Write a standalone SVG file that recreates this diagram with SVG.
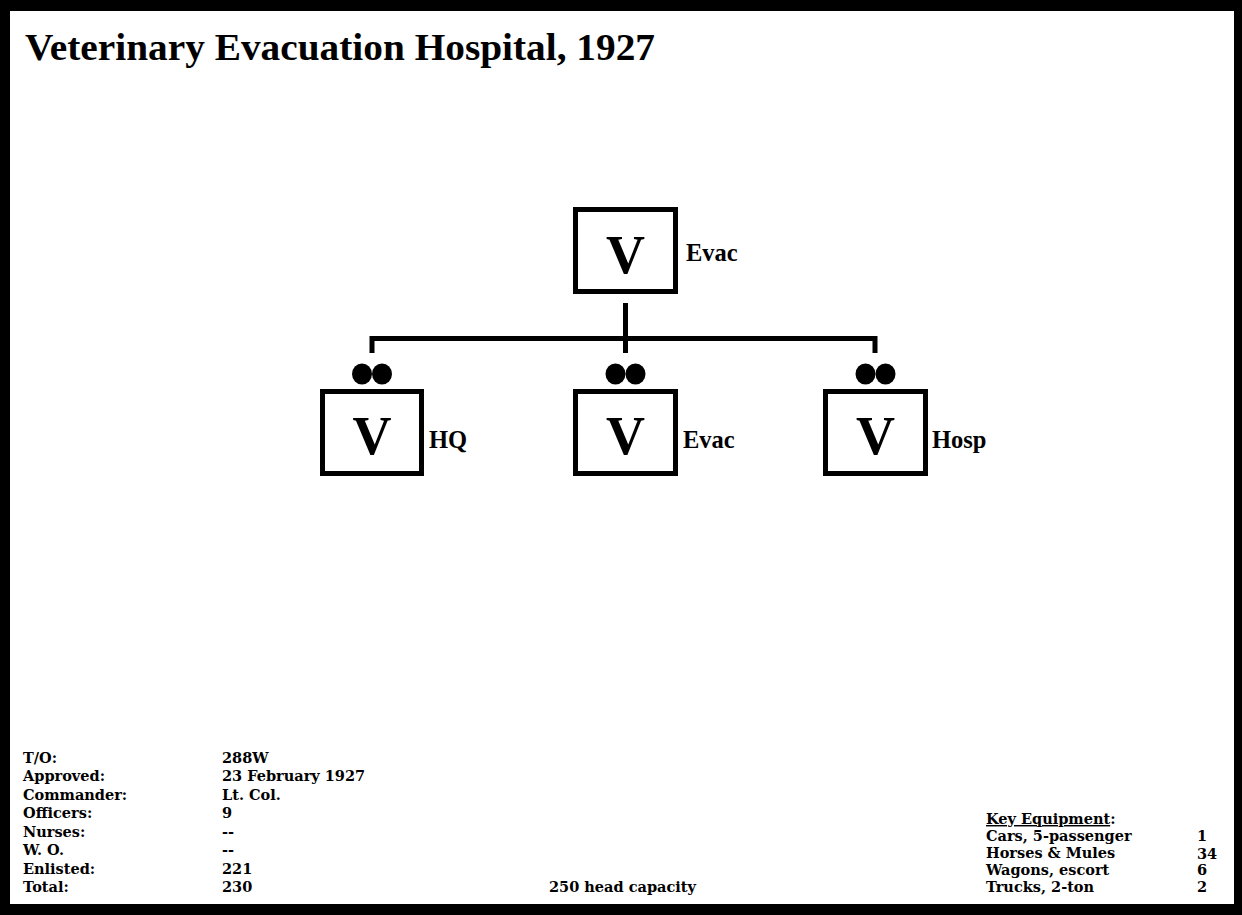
<svg xmlns="http://www.w3.org/2000/svg" width="1242" height="915" viewBox="0 0 1242 915">
<style>
.box{fill:#fff;stroke:#000;stroke-width:5}
.v{font-family:"Liberation Serif","Times New Roman",serif;font-weight:bold;font-size:54px;text-anchor:middle;fill:#000}
.lbl{font-family:"Liberation Serif","Times New Roman",serif;font-weight:bold;font-size:24.5px;fill:#000}
.ttl{font-family:"Liberation Serif","Times New Roman",serif;font-weight:bold;font-size:37px;fill:#000}
.inf{font-family:"DejaVu Serif",Georgia,serif;font-weight:bold;font-size:14.5px;fill:#000}
.ln{fill:none;stroke:#000;stroke-width:5}
.dot{fill:#000}
</style>
<rect x="0" y="0" width="1242" height="915" fill="#fff"/>
<path d="M0 0H1242V915H0Z M10 11V904H1234V11Z" fill="#000" fill-rule="evenodd"/>
<text class="ttl" x="25" y="60" textLength="630" lengthAdjust="spacingAndGlyphs">Veterinary Evacuation Hospital, 1927</text>

<g id="connectors">
<path class="ln" d="M625.5 303V353"/>
<path class="ln" d="M372 353V338.5H875V353"/>
</g>

<g id="node-top">
<rect class="box" x="575.5" y="209.5" width="100" height="82"/>
<text class="v" x="625.5" y="273">V</text>
<text class="lbl" x="686" y="261">Evac</text>
</g>
<g id="node-hq">
<ellipse class="dot" cx="362" cy="374" rx="10" ry="10.5"/>
<ellipse class="dot" cx="382" cy="374" rx="10" ry="10.5"/>
<rect class="box" x="322.5" y="391.5" width="99" height="82"/>
<text class="v" x="372" y="454">V</text>
<text class="lbl" x="429" y="448">HQ</text>
</g>
<g id="node-evac">
<ellipse class="dot" cx="615.5" cy="374" rx="10" ry="10.5"/>
<ellipse class="dot" cx="635.5" cy="374" rx="10" ry="10.5"/>
<rect class="box" x="575.5" y="391.5" width="100" height="82"/>
<text class="v" x="625.5" y="454">V</text>
<text class="lbl" x="683" y="448">Evac</text>
</g>
<g id="node-hosp">
<ellipse class="dot" cx="865.5" cy="374" rx="10" ry="10.5"/>
<ellipse class="dot" cx="885.5" cy="374" rx="10" ry="10.5"/>
<rect class="box" x="825.5" y="391.5" width="100" height="82"/>
<text class="v" x="875.5" y="454">V</text>
<text class="lbl" x="932" y="448">Hosp</text>
</g>

<g id="info-left">
<text class="inf" x="23" y="763">T/O:</text><text class="inf" x="222" y="763">288W</text>
<text class="inf" x="23" y="781.4">Approved:</text><text class="inf" x="222" y="781.4">23 February 1927</text>
<text class="inf" x="23" y="799.9">Commander:</text><text class="inf" x="222" y="799.9">Lt. Col.</text>
<text class="inf" x="23" y="818.3">Officers:</text><text class="inf" x="222" y="818.3">9</text>
<text class="inf" x="23" y="836.7">Nurses:</text><text class="inf" x="222" y="836.7">--</text>
<text class="inf" x="23" y="855.1">W. O.</text><text class="inf" x="222" y="855.1">--</text>
<text class="inf" x="23" y="873.6">Enlisted:</text><text class="inf" x="222" y="873.6">221</text>
<text class="inf" x="23" y="892">Total:</text><text class="inf" x="222" y="892">230</text>
</g>
<text class="inf" x="549" y="892">250 head capacity</text>
<g id="info-right">
<text class="inf" x="986" y="824"><tspan text-decoration="underline">Key Equipment</tspan>:</text>
<text class="inf" x="986" y="841">Cars, 5-passenger</text><text class="inf" x="1197" y="841">1</text>
<text class="inf" x="986" y="858">Horses &amp; Mules</text><text class="inf" x="1197" y="859">34</text>
<text class="inf" x="986" y="875">Wagons, escort</text><text class="inf" x="1197" y="875">6</text>
<text class="inf" x="986" y="892">Trucks, 2-ton</text><text class="inf" x="1197" y="892">2</text>
</g>
</svg>
